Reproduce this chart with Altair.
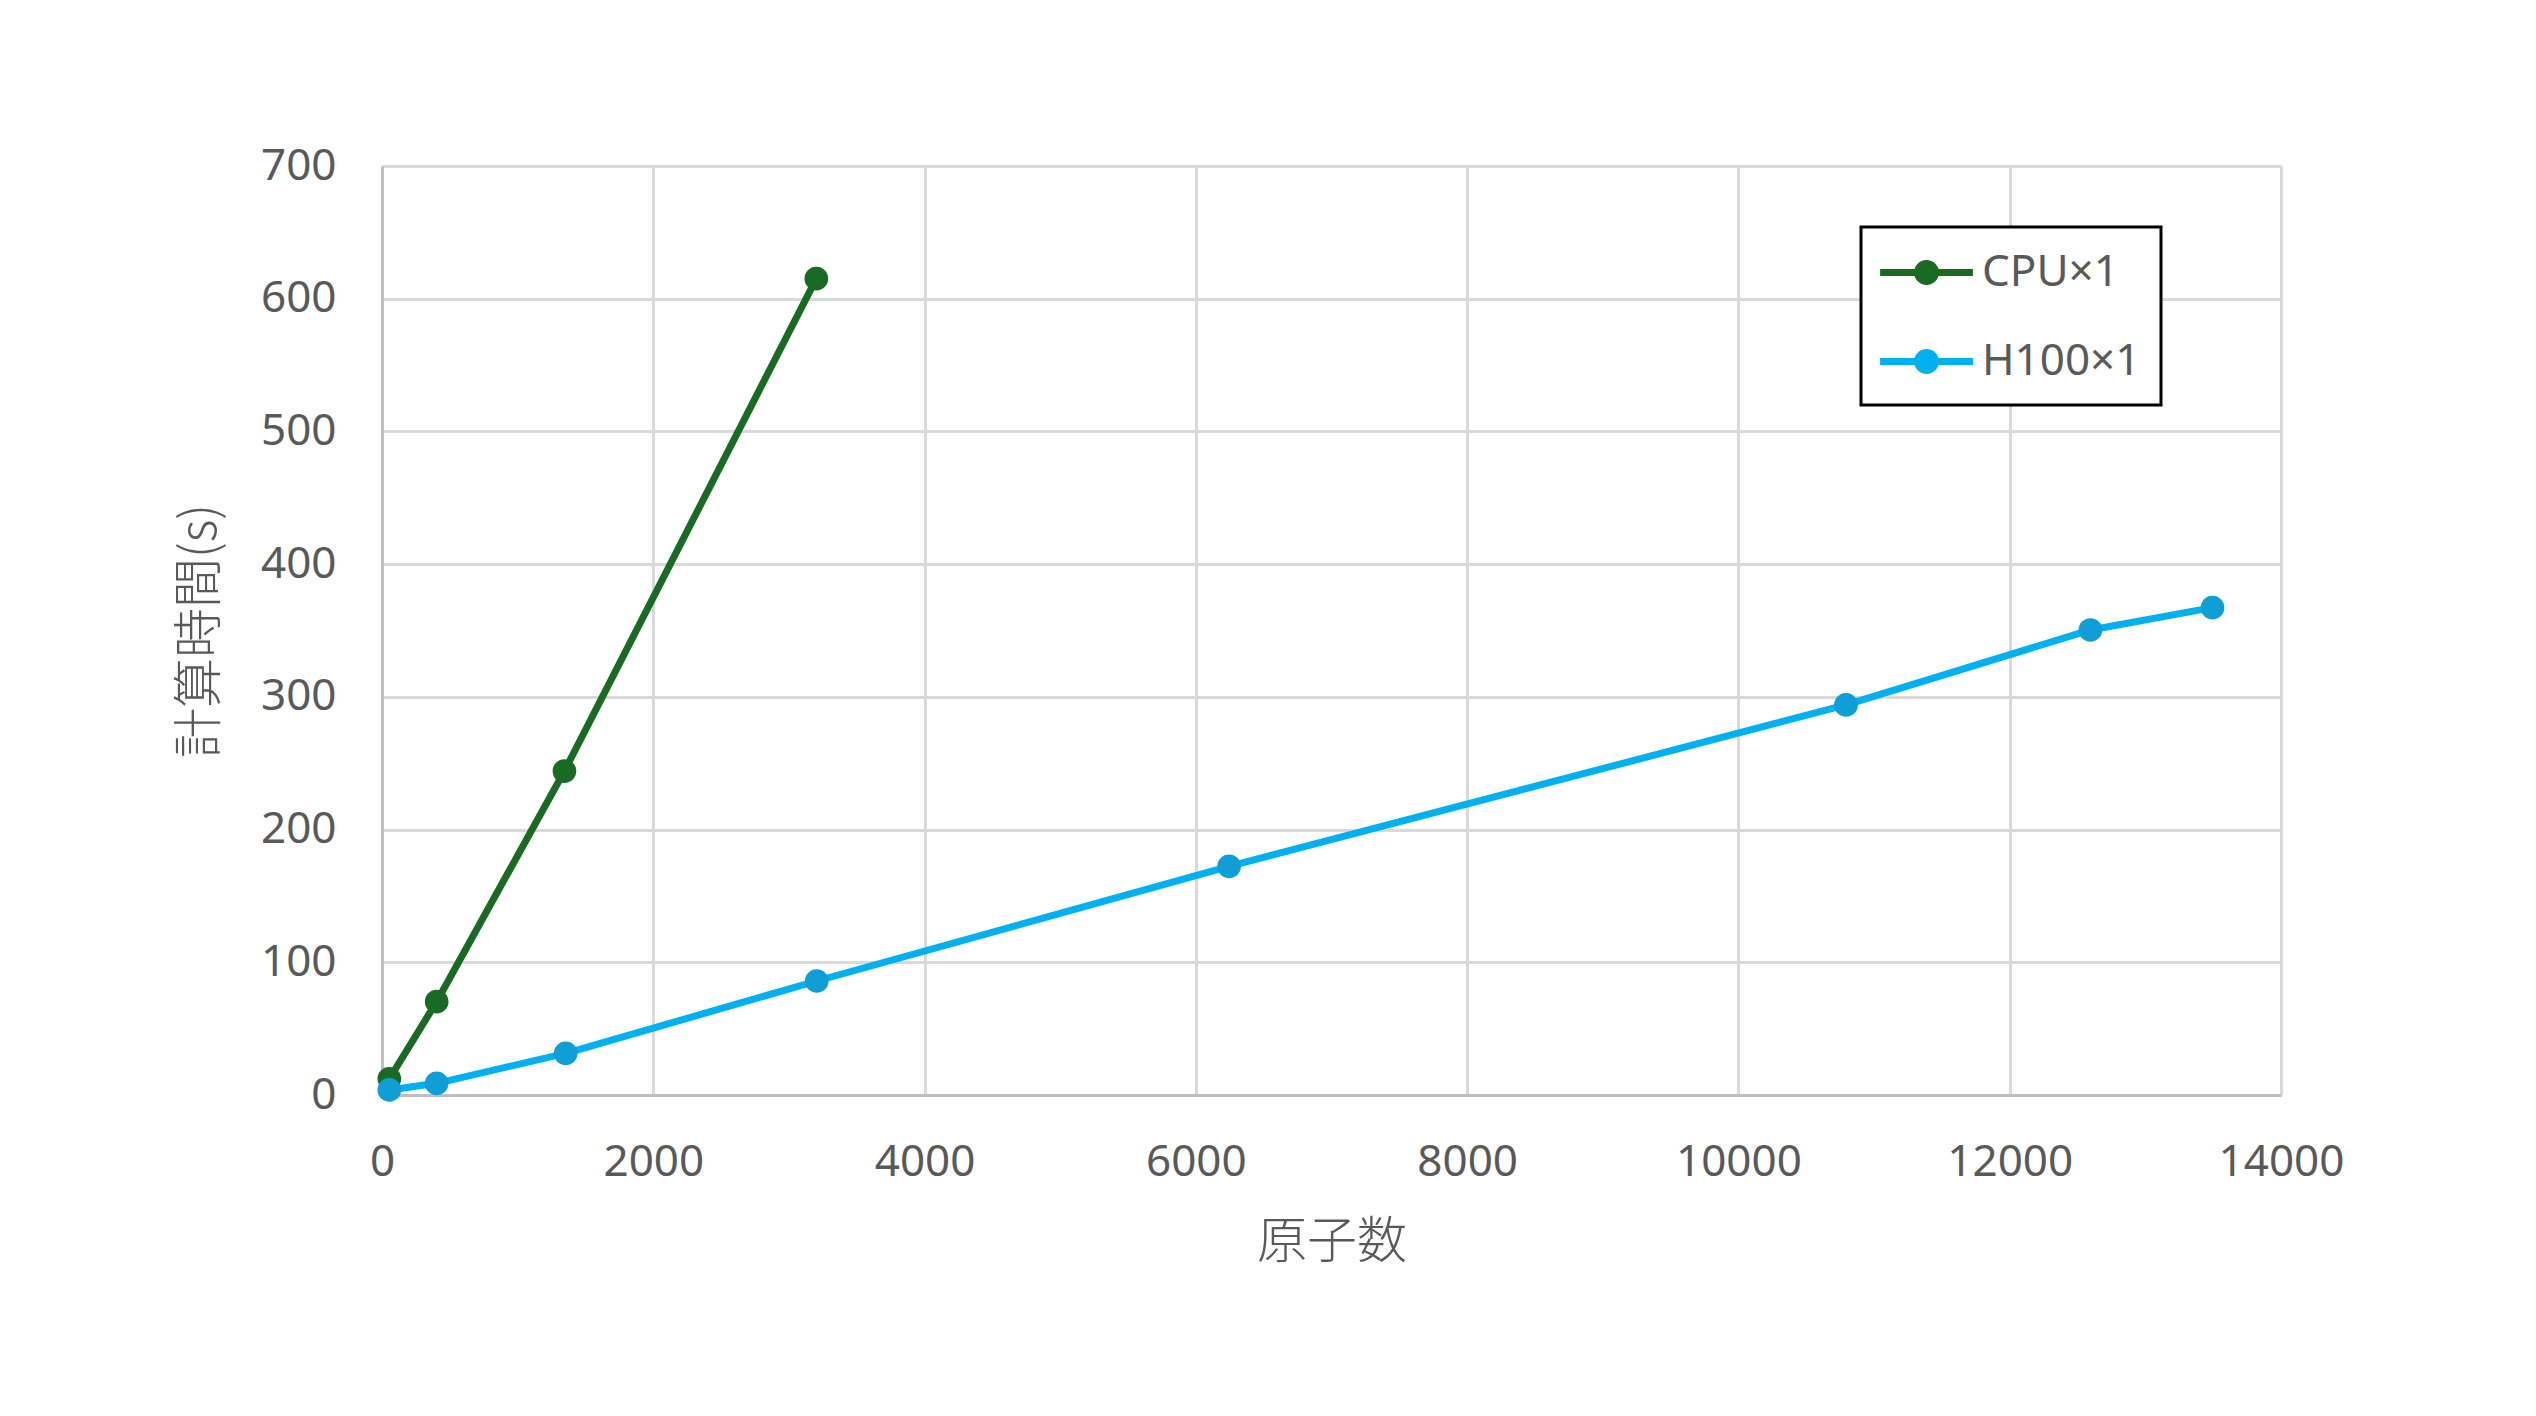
import altair as alt
import pandas as pd

# ---- data ----
series_names = ["CPU×1", "H100×1"]
cpu_atoms = [54, 403, 1345, 3202]
cpu_time = [12.2, 70.3, 244.1, 615.1]
gpu_atoms = [54, 403, 1354, 3205, 6245, 10793, 12595, 13495]
gpu_time = [3.8, 8.8, 31.4, 85.9, 172.3, 293.9, 350.4, 367.2]

line_colors = ["#196B24", "#00B0F0"]
marker_colors = ["#196B24", "#0F9ED5"]

x_ticks = list(range(0, 14001, 2000))
y_ticks = list(range(0, 701, 100))

rows = []
for a, t in zip(cpu_atoms, cpu_time):
    rows.append({"series": series_names[0], "marker": series_names[0], "atoms": a, "time": t})
for a, t in zip(gpu_atoms, gpu_time):
    rows.append({"series": series_names[1], "marker": series_names[1], "atoms": a, "time": t})
df = pd.DataFrame(rows)

FONT = "Noto Sans"
CJK = "Noto Sans CJK JP"
GREY = "#595959"

W, H = 1899, 929


def ring(cx, r):
    """closed circle sub-path (legend glyph geometry, in symbol units)"""
    k = 0.5523 * r
    return (f"M{cx + r:.3f},0"
            f"C{cx + r:.3f},{k:.3f} {cx + k:.3f},{r:.3f} {cx:.3f},{r:.3f}"
            f"C{cx - k:.3f},{r:.3f} {cx - r:.3f},{k:.3f} {cx - r:.3f},0"
            f"C{cx - r:.3f},{-k:.3f} {cx - k:.3f},{-r:.3f} {cx:.3f},{-r:.3f}"
            f"C{cx + k:.3f},{-r:.3f} {cx + r:.3f},{-k:.3f} {cx + r:.3f},0Z")


# short line with a solid dot (two concentric stroked rings make the dot)
legend_symbol = "M-1.2,0L3.02,0" + ring(0.91, 0.409) + ring(0.91, 0.136)

line_scale = alt.Scale(range=line_colors)
marker_scale = alt.Scale(range=marker_colors)

legend = alt.Legend(
    title=None,
    orient="none",
    legendX=1479,
    legendY=61,
    symbolType=legend_symbol,
    symbolSize=1936,
    symbolStrokeWidth=7,
    symbolFillColor="transparent",
    labelOffset=50,
    rowPadding=40,
    padding=20,
    labelFont=FONT,
    labelFontSize=44,
    labelColor=GREY,
    strokeColor="#000000",
    fillColor="#FFFFFF",
    zindex=1,
)

x_enc = alt.X(
    "atoms:Q",
    scale=alt.Scale(domain=[0, 14000], nice=False, zero=True),
    axis=alt.Axis(
        values=x_ticks,
        format="d",
        title="原子数",
        titleY=147,
        titleX=W / 2,
        titleBaseline="middle",
        titleAlign="center",
        labelPadding=45,
        labelFlush=False,
    ),
)
y_enc = alt.Y(
    "time:Q",
    scale=alt.Scale(domain=[0, 700], nice=False),
    axis=alt.Axis(
        values=y_ticks,
        format="d",
        title="計算時間(s)",
        titleX=-182,
        titleY=H / 2,
        titleAngle=270,
        titleBaseline="middle",
        titleAlign="center",
        labelPadding=46,
    ),
)

lines = alt.Chart(df).mark_line(strokeWidth=7, strokeCap="round", strokeJoin="round").encode(
    x=x_enc,
    y=y_enc,
    stroke=alt.Stroke("series:N", scale=line_scale, legend=legend),
    order=alt.Order("atoms:Q"),
)

points = alt.Chart(df).mark_circle(size=560, opacity=1, strokeWidth=0).encode(
    x=x_enc,
    y=y_enc,
    fill=alt.Fill("marker:N", scale=marker_scale, legend=None),
)

chart = (
    alt.layer(lines, points)
    .properties(
        width=W,
        height=H,
        padding={"left": 374, "top": 158, "right": 240, "bottom": 300},
        autosize=alt.AutoSizeParams(type="none"),
        background="#FFFFFF",
    )
    .configure_view(stroke=None)
    .configure_axis(
        grid=True,
        gridColor="#D9D9D9",
        gridWidth=3,
        domainColor="#BFBFBF",
        domainWidth=3,
        ticks=False,
        tickSize=0,
        labelFont=FONT,
        labelFontSize=44,
        labelColor=GREY,
        titleFont=CJK,
        titleFontSize=50,
        titleFontWeight=300,
        titleColor=GREY,
    )
    .configure_legend(strokeWidth=3)
)

chart.save("out.html", embed_options={"renderer": "svg", "actions": False})
